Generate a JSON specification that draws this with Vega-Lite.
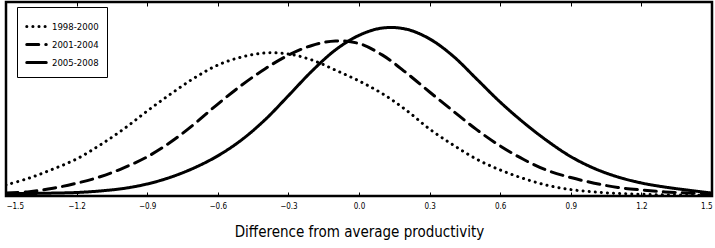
{
  "$schema": "https://vega.github.io/schema/vega-lite/v6.json",
  "autosize": "none",
  "width": 706,
  "height": 194,
  "padding": {"left": 6, "top": 2, "right": 3, "bottom": 52},
  "background": "white",
  "config": {
    "view": {"stroke": "black", "strokeWidth": 2.5},
    "font": "DejaVu Sans Condensed"
  },
  "datasets": {
    "curves": [
      {"period": "1998-2000", "x": -1.5, "y": 0.057},
      {"period": "1998-2000", "x": -1.4, "y": 0.093},
      {"period": "1998-2000", "x": -1.3, "y": 0.139},
      {"period": "1998-2000", "x": -1.2, "y": 0.191},
      {"period": "1998-2000", "x": -1.1, "y": 0.263},
      {"period": "1998-2000", "x": -1.0, "y": 0.345},
      {"period": "1998-2000", "x": -0.9, "y": 0.438},
      {"period": "1998-2000", "x": -0.8, "y": 0.526},
      {"period": "1998-2000", "x": -0.7, "y": 0.608},
      {"period": "1998-2000", "x": -0.6, "y": 0.675},
      {"period": "1998-2000", "x": -0.5, "y": 0.716},
      {"period": "1998-2000", "x": -0.4, "y": 0.737},
      {"period": "1998-2000", "x": -0.3, "y": 0.732},
      {"period": "1998-2000", "x": -0.2, "y": 0.701},
      {"period": "1998-2000", "x": -0.1, "y": 0.649},
      {"period": "1998-2000", "x": 0.0, "y": 0.593},
      {"period": "1998-2000", "x": 0.1, "y": 0.527},
      {"period": "1998-2000", "x": 0.2, "y": 0.443},
      {"period": "1998-2000", "x": 0.3, "y": 0.345},
      {"period": "1998-2000", "x": 0.4, "y": 0.263},
      {"period": "1998-2000", "x": 0.5, "y": 0.190},
      {"period": "1998-2000", "x": 0.6, "y": 0.134},
      {"period": "1998-2000", "x": 0.7, "y": 0.090},
      {"period": "1998-2000", "x": 0.8, "y": 0.055},
      {"period": "1998-2000", "x": 0.9, "y": 0.033},
      {"period": "1998-2000", "x": 1.0, "y": 0.021},
      {"period": "1998-2000", "x": 1.1, "y": 0.013},
      {"period": "1998-2000", "x": 1.2, "y": 0.009},
      {"period": "1998-2000", "x": 1.3, "y": 0.006},
      {"period": "1998-2000", "x": 1.4, "y": 0.004},
      {"period": "1998-2000", "x": 1.5, "y": 0.003},
      {"period": "2001-2004", "x": -1.5, "y": 0.015},
      {"period": "2001-2004", "x": -1.4, "y": 0.022},
      {"period": "2001-2004", "x": -1.3, "y": 0.040},
      {"period": "2001-2004", "x": -1.2, "y": 0.066},
      {"period": "2001-2004", "x": -1.1, "y": 0.099},
      {"period": "2001-2004", "x": -1.0, "y": 0.145},
      {"period": "2001-2004", "x": -0.9, "y": 0.202},
      {"period": "2001-2004", "x": -0.8, "y": 0.278},
      {"period": "2001-2004", "x": -0.7, "y": 0.371},
      {"period": "2001-2004", "x": -0.6, "y": 0.474},
      {"period": "2001-2004", "x": -0.5, "y": 0.570},
      {"period": "2001-2004", "x": -0.4, "y": 0.655},
      {"period": "2001-2004", "x": -0.3, "y": 0.726},
      {"period": "2001-2004", "x": -0.2, "y": 0.776},
      {"period": "2001-2004", "x": -0.1, "y": 0.799},
      {"period": "2001-2004", "x": 0.0, "y": 0.786},
      {"period": "2001-2004", "x": 0.1, "y": 0.726},
      {"period": "2001-2004", "x": 0.2, "y": 0.636},
      {"period": "2001-2004", "x": 0.3, "y": 0.536},
      {"period": "2001-2004", "x": 0.4, "y": 0.438},
      {"period": "2001-2004", "x": 0.5, "y": 0.342},
      {"period": "2001-2004", "x": 0.6, "y": 0.258},
      {"period": "2001-2004", "x": 0.7, "y": 0.188},
      {"period": "2001-2004", "x": 0.8, "y": 0.132},
      {"period": "2001-2004", "x": 0.9, "y": 0.095},
      {"period": "2001-2004", "x": 1.0, "y": 0.066},
      {"period": "2001-2004", "x": 1.1, "y": 0.044},
      {"period": "2001-2004", "x": 1.2, "y": 0.031},
      {"period": "2001-2004", "x": 1.3, "y": 0.021},
      {"period": "2001-2004", "x": 1.4, "y": 0.015},
      {"period": "2001-2004", "x": 1.5, "y": 0.010},
      {"period": "2005-2008", "x": -1.5, "y": 0.012},
      {"period": "2005-2008", "x": -1.4, "y": 0.013},
      {"period": "2005-2008", "x": -1.3, "y": 0.015},
      {"period": "2005-2008", "x": -1.2, "y": 0.018},
      {"period": "2005-2008", "x": -1.1, "y": 0.026},
      {"period": "2005-2008", "x": -1.0, "y": 0.039},
      {"period": "2005-2008", "x": -0.9, "y": 0.062},
      {"period": "2005-2008", "x": -0.8, "y": 0.097},
      {"period": "2005-2008", "x": -0.7, "y": 0.145},
      {"period": "2005-2008", "x": -0.6, "y": 0.207},
      {"period": "2005-2008", "x": -0.5, "y": 0.288},
      {"period": "2005-2008", "x": -0.4, "y": 0.392},
      {"period": "2005-2008", "x": -0.3, "y": 0.517},
      {"period": "2005-2008", "x": -0.2, "y": 0.644},
      {"period": "2005-2008", "x": -0.1, "y": 0.753},
      {"period": "2005-2008", "x": 0.0, "y": 0.828},
      {"period": "2005-2008", "x": 0.1, "y": 0.866},
      {"period": "2005-2008", "x": 0.2, "y": 0.860},
      {"period": "2005-2008", "x": 0.3, "y": 0.810},
      {"period": "2005-2008", "x": 0.4, "y": 0.721},
      {"period": "2005-2008", "x": 0.5, "y": 0.603},
      {"period": "2005-2008", "x": 0.6, "y": 0.484},
      {"period": "2005-2008", "x": 0.7, "y": 0.378},
      {"period": "2005-2008", "x": 0.8, "y": 0.284},
      {"period": "2005-2008", "x": 0.9, "y": 0.203},
      {"period": "2005-2008", "x": 1.0, "y": 0.142},
      {"period": "2005-2008", "x": 1.1, "y": 0.098},
      {"period": "2005-2008", "x": 1.2, "y": 0.067},
      {"period": "2005-2008", "x": 1.3, "y": 0.046},
      {"period": "2005-2008", "x": 1.4, "y": 0.030},
      {"period": "2005-2008", "x": 1.5, "y": 0.015}
    ]
  },
  "data": {"name": "curves"},
  "layer": [
    {
      "mark": {"type": "line", "interpolate": "catmull-rom", "color": "black", "strokeWidth": 3, "strokeCap": "round", "clip": true},
      "encoding": {
        "x": {
          "field": "x", "type": "quantitative",
          "scale": {"domain": [-1.5, 1.5], "nice": false, "zero": false},
          "axis": {
            "orient": "bottom",
            "values": [-1.5, -1.2, -0.9, -0.6, -0.3, 0, 0.3, 0.6, 0.9, 1.2, 1.5],
            "format": ".1f",
            "domain": false,
            "grid": false,
            "tickSize": -4,
            "tickColor": "black",
            "labelPadding": 10,
            "labelFont": "DejaVu Sans Condensed",
            "labelFontSize": 8,
            "labelColor": "black",
            "labelFlush": true,
            "title": "Difference from average productivity",
            "titleFont": "DejaVu Sans Condensed",
            "titleFontSize": 15,
            "titleFontWeight": "normal",
            "titleColor": "black",
            "titlePadding": 14
          }
        },
        "y": {
          "field": "y", "type": "quantitative",
          "scale": {"domain": [0, 1], "nice": false},
          "axis": null
        },
        "strokeDash": {
          "field": "period", "type": "nominal",
          "scale": {"domain": ["1998-2000", "2001-2004", "2005-2008"], "range": [[0.1, 6], [12, 7], [1, 0]]},
          "legend": {
            "title": null,
            "orient": "none",
            "legendX": 11,
            "legendY": 5,
            "strokeColor": "black",
            "fillColor": "white",
            "padding": 8,
            "symbolType": "stroke",
            "symbolSize": 380,
            "symbolStrokeWidth": 3,
            "symbolStrokeColor": "black",
            "labelFont": "DejaVu Sans Condensed",
            "labelFontSize": 9.5,
            "labelColor": "black",
            "labelOffset": 4,
            "rowPadding": 0,
            "encode": {"symbols": {"update": {"strokeCap": {"value": "round"}}}}
          }
        }
      }
    },
    {
      "mark": {"type": "point", "opacity": 0},
      "encoding": {
        "x": {
          "field": "x", "type": "quantitative",
          "axis": {
            "orient": "top",
            "values": [-1.5, -1.2, -0.9, -0.6, -0.3, 0, 0.3, 0.6, 0.9, 1.2, 1.5],
            "labels": false,
            "domain": false,
            "grid": false,
            "tickSize": -4,
            "tickColor": "black",
            "title": null
          }
        },
        "y": {"field": "y", "type": "quantitative"}
      }
    }
  ],
  "resolve": {"axis": {"x": "independent"}}
}
